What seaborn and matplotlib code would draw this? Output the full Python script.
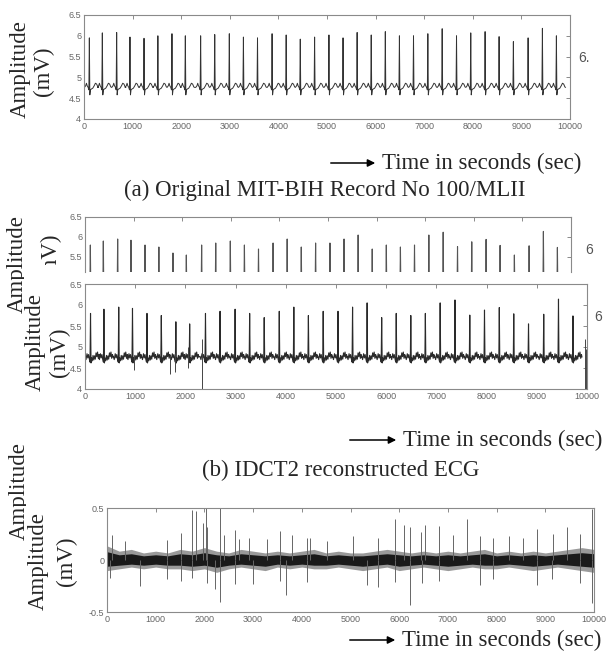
import numpy as np
import pandas as pd
import seaborn as sns
import matplotlib.pyplot as plt
from matplotlib.patches import FancyArrowPatch
from matplotlib.transforms import Bbox, TransformedBbox

W, H = 609, 657

# R-peak sample positions (same beats in every trace)
beat_t = [110, 377, 672, 946, 1235, 1520, 1810, 2085, 2400, 2690, 2990, 3280,
          3570, 3870, 4160, 4450, 4745, 5040, 5330, 5620, 5910, 6200, 6490,
          6780, 7075, 7370, 7665, 7958, 8253, 8541, 8835, 9138, 9432, 9720]

# R-peak heights, original record (a)
r_orig = [5.95, 6.07, 6.08, 5.97, 5.94, 6.00, 6.05, 6.00, 6.00, 6.03, 6.05, 5.97,
          5.95, 6.05, 6.02, 5.92, 5.97, 6.02, 5.95, 6.08, 6.02, 6.10, 6.00,
          6.00, 6.05, 6.17, 6.00, 6.07, 6.10, 5.98, 5.86, 5.95, 6.18, 6.00]

# R-peak heights, IDCT2 reconstruction (b)
r_recon = [5.80, 5.90, 5.95, 5.92, 5.80, 5.75, 5.60, 5.55, 5.80, 5.85, 5.90, 5.80,
           5.70, 5.85, 5.95, 5.75, 5.85, 5.85, 5.95, 6.05, 5.70, 5.80, 5.75,
           5.80, 6.05, 6.12, 5.76, 5.88, 5.94, 5.79, 5.55, 5.78, 6.14, 5.74]

# one beat around the R peak (None = the R peak itself)
beat_off_a = [-100, -75, -60, -45, -25, -10, 0, 10, 22, 40, 70, 100, 125, 150, 175, 190]
beat_lev_a = [4.76, 4.80, 4.86, 4.80, 4.76, 4.70, None, 4.58, 4.70, 4.72, 4.74,
              4.80, 4.86, 4.84, 4.77, 4.76]

beat_off_b = [-110, -90, -70, -55, -40, -25, -10, 0, 10, 20, 35, 50, 65, 80, 95,
              110, 125, 140, 155, 170, 180]
beat_lev_b = [4.78, 4.70, 4.84, 4.74, 4.82, 4.72, 4.64, None, 4.62, 4.74, 4.67,
              4.80, 4.69, 4.79, 4.71, 4.86, 4.77, 4.88, 4.73, 4.82, 4.76]

# artefacts in the reconstruction
art_t = [980, 1700, 1790, 2050, 2340, 9960, 9985]
art_lo = [4.45, 4.35, 4.40, 4.50, 4.00, 4.00, 4.00]
art_hi = [4.80, 4.80, 4.85, 5.00, 5.20, 5.20, 4.95]

# residual (c): spikes and noise band
res_up_t = [96, 370, 1225, 1520, 1739, 1821, 1978, 2033, 2060, 2320, 2409, 2628, 2717,
            2916, 3279, 3553, 3806, 4100, 4169, 4511, 5058, 5572, 5914, 6099, 6222,
            6441, 6530, 6824, 7112, 7400, 7660, 7934, 8262, 8536, 8837, 9152, 9439,
            9713, 9952]
res_up_v = [0.24, 0.18, 0.19, 0.26, 0.48, 0.47, 0.36, 0.50, 0.32, 0.50, 0.24, 0.29, 0.20,
            0.21, 0.20, 0.28, 0.24, 0.21, 0.21, 0.18, 0.23, 0.21, 0.39, 0.34, 0.32,
            0.27, 0.34, 0.33, 0.24, 0.39, 0.23, 0.21, 0.23, 0.21, 0.30, 0.25, 0.32,
            0.25, 0.49]
res_dn_t = [62, 678, 1225, 1520, 1739, 2047, 2218, 2320, 2628, 3005, 3553, 3676, 4100,
            5332, 5572, 5914, 6222, 6462, 6824, 7660, 7934, 8837, 9131, 9713, 9952]
res_dn_v = [-0.17, -0.25, -0.18, -0.20, -0.17, -0.22, -0.28, -0.40, -0.23, -0.23, -0.20,
            -0.34, -0.21, -0.24, -0.26, -0.21, -0.43, -0.22, -0.20, -0.24, -0.18,
            -0.24, -0.18, -0.22, -0.41]
band_t = list(range(0, 10001, 250))
band_hi = [0.08, 0.05, 0.06, 0.04, 0.05, 0.04, 0.06, 0.05, 0.07, 0.05, 0.04, 0.06, 0.05,
           0.04, 0.05, 0.04, 0.05, 0.06, 0.04, 0.05, 0.04, 0.04, 0.05, 0.06, 0.05, 0.04,
           0.05, 0.04, 0.05, 0.04, 0.05, 0.06, 0.04, 0.05, 0.04, 0.05, 0.04, 0.05, 0.06,
           0.07, 0.06]
band_lo = [-0.06, -0.05, -0.04, -0.05, -0.04, -0.05, -0.05, -0.06, -0.05, -0.07, -0.05,
           -0.04, -0.05, -0.06, -0.04, -0.05, -0.04, -0.05, -0.05, -0.04, -0.05, -0.06,
           -0.05, -0.04, -0.06, -0.05, -0.04, -0.05, -0.06, -0.05, -0.04, -0.05, -0.05,
           -0.04, -0.05, -0.06, -0.05, -0.04, -0.05, -0.06, -0.07]


def trace(peaks, offs, levs):
    xs, ys = [], []
    for t, r in zip(beat_t, peaks):
        for o, v in zip(offs, levs):
            xs.append(t + o)
            ys.append(r if v is None else v)
    return pd.DataFrame({'t': xs, 'mv': ys})


sns.set_style('white')
plt.rcParams['font.family'] = ['Liberation Sans', 'DejaVu Sans']
serif = 'Liberation Serif'

fig = plt.figure(figsize=(W / 100, H / 100), dpi=100)


def box(left, top, right, bottom):
    return [left / W, 1 - bottom / H, (right - left) / W, (bottom - top) / H]


def style(ax, ylim, yticks, ylabels):
    ax.set_xlim(0, 10000)
    ax.set_ylim(*ylim)
    ax.set_xticks(range(0, 10001, 1000))
    ax.set_yticks(yticks)
    ax.set_yticklabels(ylabels)
    ax.set_xlabel('')
    ax.set_ylabel('')
    ax.tick_params(direction='in', length=3, width=0.6, colors='#777', top=True,
                   right=True, labelsize=6.5, labelcolor='#666', pad=2)
    for s in ax.spines.values():
        s.set_color('#8a8a8a')
        s.set_linewidth(0.8)


df_a = trace(r_orig, beat_off_a, beat_lev_a)
df_b = trace(r_recon, beat_off_b, beat_lev_b)

# (a) original
ax_a = fig.add_axes(box(84, 15, 570, 119))
sns.lineplot(data=df_a, x='t', y='mv', ax=ax_a, color='#333', lw=0.7,
             estimator=None, sort=False)
style(ax_a, (4, 6.5), [4, 4.5, 5, 5.5, 6, 6.5], ['4', '4.5', '5', '5.5', '6', '6.5'])

# cropped strip of the reconstruction
ax_p = fig.add_axes(box(85, 217, 571, 272))
sns.lineplot(data=df_b, x='t', y='mv', ax=ax_p, color='#555', lw=0.8,
             estimator=None, sort=False)
style(ax_p, (5.125, 6.5), [5.5, 6, 6.5], ['5.5', '6', '6.5'])
ax_p.spines['bottom'].set_visible(False)
ax_p.tick_params(bottom=False, labelbottom=False)

# (b) reconstruction
ax_b = fig.add_axes(box(85, 284, 587, 389))
sns.lineplot(data=df_b, x='t', y='mv', ax=ax_b, color='#2a2a2a', lw=0.8,
             estimator=None, sort=False)
ax_b.vlines(art_t, art_lo, art_hi, color='#444', lw=0.7)
style(ax_b, (4, 6.5), [4, 4.5, 5, 5.5, 6, 6.5], ['4', '4.5', '5', '5.5', '6', '6.5'])

# (c) residual
ax_c = fig.add_axes(box(107, 508, 594, 612))
ax_c.fill_between(band_t, [v * 1.7 for v in band_lo], [v * 1.7 for v in band_hi],
                  color='#9a9a9a', lw=0)
ax_c.fill_between(band_t, band_lo, band_hi, color='#1a1a1a', lw=0)
ax_c.vlines(res_up_t, 0, res_up_v, color='#666', lw=0.7)
ax_c.vlines(res_dn_t, 0, res_dn_v, color='#666', lw=0.7)
style(ax_c, (-0.5, 0.5), [-0.5, 0, 0.5], ['-0.5', '0', '0.5'])


def ftext(x, y, s, size=16.5, rot=0, clip=None, **kw):
    t = fig.text(x / W, 1 - y / H, s, fontsize=size, rotation=rot, family=serif,
                 ha='center', va='center', **kw)
    if clip is not None:
        l, tp, r, b = clip
        t.set_clip_on(True)
        t.set_clip_box(TransformedBbox(Bbox.from_extents(l / W, 1 - b / H, r / W, 1 - tp / H),
                                       fig.transFigure))
    return t


# y labels
ftext(20, 69, 'Amplitude', rot=90)
ftext(43, 71, '(mV)', rot=90)
ftext(17, 264, 'Amplitude', rot=90, clip=(0, 200, 24, 330))
ftext(50, 258, '(mV)', rot=90, clip=(0, 200, 80, 265))
ftext(35, 342, 'Amplitude', rot=90)
ftext(59, 352, '(mV)', rot=90)
ftext(19, 491, 'Amplitude', rot=90, clip=(0, 430, 26, 560))
ftext(38, 561, 'Amplitude', rot=90)
ftext(66, 561, '(mV)', rot=90)

# stray tick digits from the cropped panels
for x, y, s in [(584, 58, '6.'), (589, 250, '6'), (598, 317, '6')]:
    fig.text(x / W, 1 - y / H, s, fontsize=10, color='#555', ha='center', va='center')

# time labels with arrows
for ax0, ax1, y in [(328, 378, 163), (347, 399, 440), (347, 398, 640)]:
    fig.add_artist(FancyArrowPatch((ax0 / W, 1 - y / H), (ax1 / W, 1 - y / H),
                                   transform=fig.transFigure, arrowstyle='-|>',
                                   mutation_scale=11, lw=1.1, color='black'))
    fig.text((ax1 + 4) / W, 1 - y / H, 'Time in seconds (sec)', fontsize=16.5,
             family=serif, ha='left', va='center')

ftext(325, 190, '(a) Original MIT-BIH Record No 100/MLII', size=16.5)
ftext(341, 470, '(b) IDCT2 reconstructed ECG', size=16.5)

fig.savefig('out.png', dpi=100)
